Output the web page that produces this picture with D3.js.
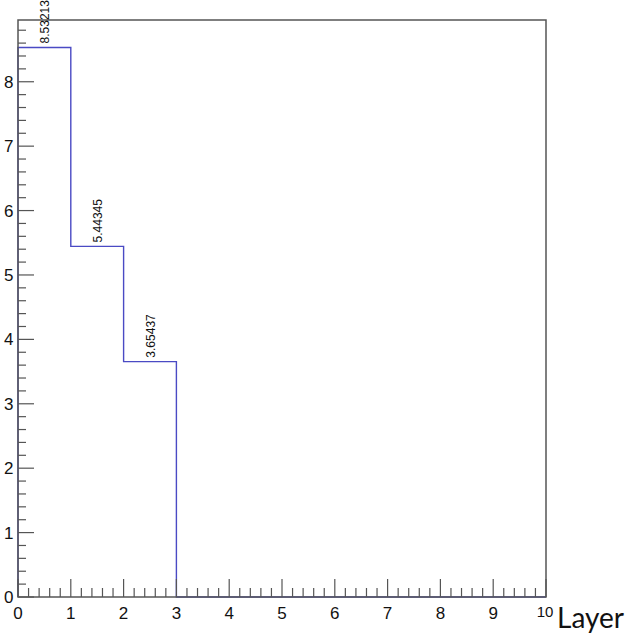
<!DOCTYPE html>
<html>
<head>
<meta charset="utf-8">
<script src="https://cdnjs.cloudflare.com/ajax/libs/d3/7.8.5/d3.min.js"></script>
<style>
  body { margin: 0; background: #fff; }
  svg { display: block; }
</style>
</head>
<body>
<script>
'use strict';

// bins 0..9 along "Layer"
var binEdges = [0, 1, 2, 3, 4, 5, 6, 7, 8, 9, 10];
var binValues = [8.53213, 5.44345, 3.65437, 0, 0, 0, 0, 0, 0, 0];
var binLabels = ['8.53213', '5.44345', '3.65437'];
var xTicks = [0, 1, 2, 3, 4, 5, 6, 7, 8, 9, 10];
var yTicks = [0, 1, 2, 3, 4, 5, 6, 7, 8];
var xTitle = 'Layer';

var width = 625,
  height = 635,
  frameLeft = 18,
  frameRight = 546,
  frameTop = 20,
  frameBottom = 597;

var svg = d3.select('body').append('svg')
  .attr('width', width)
  .attr('height', height);

var yMax = d3.max(binValues) * 1.05;

var x = d3.scaleLinear().domain([0, 10]).range([frameLeft, frameRight]);
var y = d3.scaleLinear().domain([0, yMax]).range([frameBottom, frameTop]);

// histogram step outline
var pts = [[0, 0]];
binValues.forEach(function(v, i) {
  pts.push([binEdges[i], v]);
  pts.push([binEdges[i + 1], v]);
});
pts.push([10, 0]);

svg.append('path')
  .attr('d', d3.line().x(function(d) { return x(d[0]); }).y(function(d) { return y(d[1]); })(pts))
  .attr('fill', 'none')
  .attr('stroke', '#4a4ac4')
  .attr('stroke-width', 1.4);

// frame
svg.append('rect')
  .attr('x', frameLeft).attr('y', frameTop)
  .attr('width', frameRight - frameLeft).attr('height', frameBottom - frameTop)
  .attr('fill', 'none')
  .attr('stroke', '#555')
  .attr('stroke-width', 1.5);

// ticks
var tickColor = '#555';
var xMinor = d3.range(0, 10.001, 0.2);
svg.append('g').selectAll('line').data(xMinor).enter().append('line')
  .attr('x1', function(d) { return x(d); })
  .attr('x2', function(d) { return x(d); })
  .attr('y1', frameBottom)
  .attr('y2', function(d) { return Math.abs(d - Math.round(d)) < 1e-6 ? frameBottom - 18 : frameBottom - 9; })
  .attr('stroke', tickColor)
  .attr('stroke-width', 1.2);

var yMinor = d3.range(0, yMax, 0.2);
svg.append('g').selectAll('line').data(yMinor).enter().append('line')
  .attr('y1', function(d) { return y(d); })
  .attr('y2', function(d) { return y(d); })
  .attr('x1', frameLeft)
  .attr('x2', function(d) { return Math.abs(d - Math.round(d)) < 1e-6 ? frameLeft + 16 : frameLeft + 8; })
  .attr('stroke', tickColor)
  .attr('stroke-width', 1.2);

// tick labels (the last one sits higher and smaller)
svg.append('g').selectAll('text').data(xTicks).enter().append('text')
  .attr('x', function(d) { return d === 10 ? x(d) - 1 : x(d); })
  .attr('y', function(d) { return d === 10 ? 617 : 619; })
  .attr('text-anchor', 'middle')
  .attr('font-family', 'Liberation Sans, Arial, sans-serif')
  .attr('font-size', function(d) { return d === 10 ? 15 : 17; })
  .attr('fill', '#111')
  .text(function(d) { return d; });

svg.append('g').selectAll('text').data(yTicks).enter().append('text')
  .attr('x', 13.5)
  .attr('y', function(d) { return y(d) + 6; })
  .attr('text-anchor', 'end')
  .attr('font-family', 'Liberation Sans, Arial, sans-serif')
  .attr('font-size', 17)
  .attr('fill', '#111')
  .text(function(d) { return d; });

// value labels, rotated
binLabels.forEach(function(t, i) {
  var cx = x(binEdges[i] + 0.5) + 4.5,
    cy = y(binValues[i]) - 4;
  svg.append('text')
    .attr('transform', 'translate(' + cx + ',' + cy + ') rotate(-90)')
    .attr('font-family', 'Liberation Sans, Arial, sans-serif')
    .attr('font-size', 12)
    .attr('fill', '#111')
    .text(t);
});

// axis title
svg.append('text')
  .attr('x', 557)
  .attr('y', 628)
  .attr('font-family', 'Lato, Carlito, sans-serif')
  .attr('font-size', 28)
  .attr('fill', '#111')
  .text(xTitle);
</script>
</body>
</html>
